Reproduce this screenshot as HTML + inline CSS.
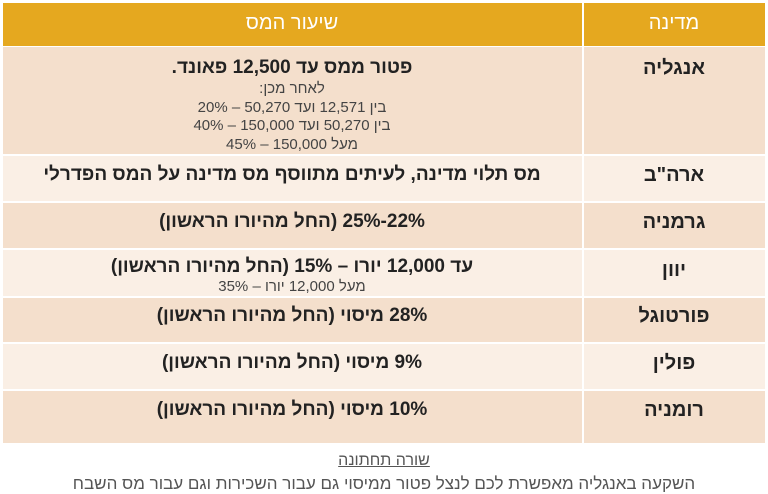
<!DOCTYPE html>
<html><head><meta charset="utf-8"><style>
body{margin:0;width:768px;height:494px;background:#fff;font-family:"Liberation Sans","Noto Sans CJK SC",sans-serif;overflow:hidden;position:relative;direction:rtl}
.r{position:absolute;left:3px;width:762px}
.c1{position:absolute;left:583px;width:182px;text-align:center;font-size:20px;font-weight:bold;color:#222}
.c2{position:absolute;left:3px;width:578px;text-align:center;font-size:19px;font-weight:bold;color:#222;white-space:nowrap}
.s{font-size:15px;font-weight:normal;color:#444;line-height:18.5px}
.v{position:absolute;left:582px;width:2px;top:3px;height:440px;background:#fff}
</style></head><body>
<div class="r" style="top:3px;height:43px;background:#E5A81F"></div>
<div class="r" style="top:47px;height:107px;background:#F4DFCC"></div>
<div class="r" style="top:156px;height:45px;background:#FAEFE5"></div>
<div class="r" style="top:203px;height:45px;background:#F4DFCC"></div>
<div class="r" style="top:250px;height:46px;background:#FAEFE5"></div>
<div class="r" style="top:298px;height:44px;background:#F4DFCC"></div>
<div class="r" style="top:344px;height:45px;background:#FAEFE5"></div>
<div class="r" style="top:391px;height:52px;background:#F4DFCC"></div>
<div class="v"></div>

<div class="c1" style="top:12px;color:#fff;font-weight:normal;font-size:20px">מדינה</div>
<div class="c2" style="top:12px;color:#fff;font-weight:normal;font-size:20px">שיעור המס</div>

<div class="c1" style="top:57px">אנגליה</div>
<div class="c2" style="top:57px">פטור ממס עד 12,500 פאונד.<div class="s" style="margin-top:1px">לאחר מכן:<br>בין 12,571 ועד 50,270 – 20%<br>בין 50,270 ועד 150,000 – 40%<br>מעל 150,000 – 45%</div></div>

<div class="c1" style="top:164px">ארה"ב</div>
<div class="c2" style="top:164px">מס תלוי מדינה, לעיתים מתווסף מס מדינה על המס הפדרלי</div>

<div class="c1" style="top:211px">גרמניה</div>
<div class="c2" style="top:211px">22%-25% (החל מהיורו הראשון)</div>

<div class="c1" style="top:259px">יוון</div>
<div class="c2" style="top:256px">עד 12,000 יורו – 15% (החל מהיורו הראשון)<div class="s">מעל 12,000 יורו – 35%</div></div>

<div class="c1" style="top:305px">פורטוגל</div>
<div class="c2" style="top:305px">28% מיסוי (החל מהיורו הראשון)</div>

<div class="c1" style="top:352px">פולין</div>
<div class="c2" style="top:352px">9% מיסוי (החל מהיורו הראשון)</div>

<div class="c1" style="top:399px">רומניה</div>
<div class="c2" style="top:399px">10% מיסוי (החל מהיורו הראשון)</div>

<div style="position:absolute;left:0;width:768px;top:452px;text-align:center;font-size:16px;color:#555;text-decoration:underline">שורה תחתונה</div>
<div style="position:absolute;left:0;width:768px;top:474px;text-align:center;font-size:17px;color:#555;white-space:nowrap">השקעה באנגליה מאפשרת לכם לנצל פטור ממיסוי גם עבור השכירות וגם עבור מס השבח</div>
</body></html>
